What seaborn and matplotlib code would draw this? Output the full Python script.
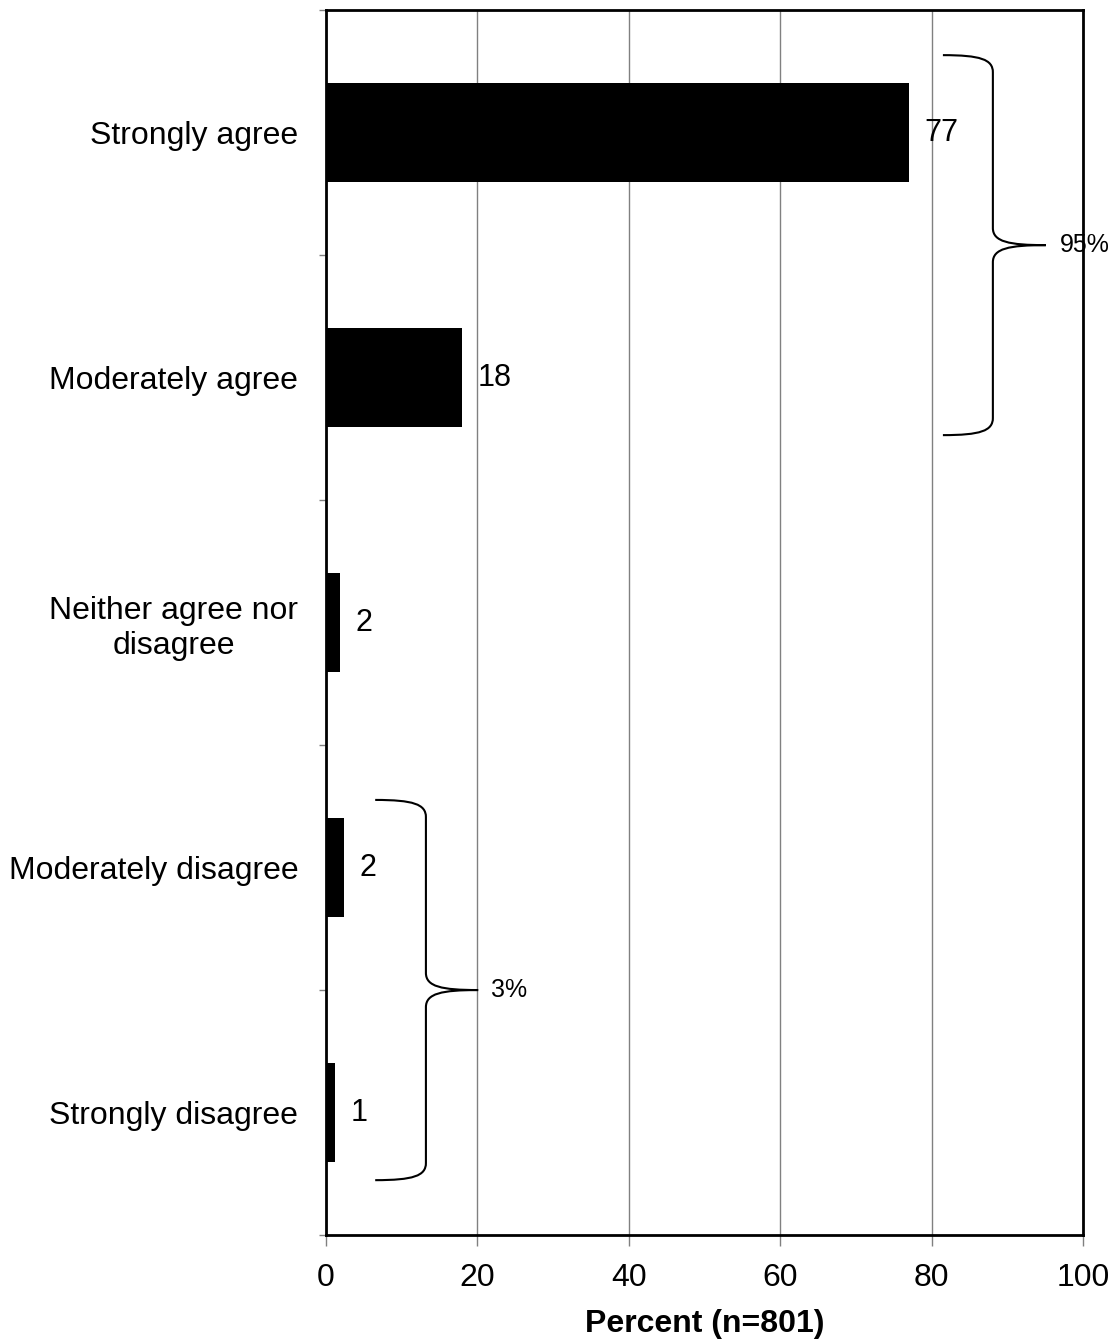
import numpy as np
import pandas as pd
import matplotlib
matplotlib.use('Agg')
import matplotlib.pyplot as plt
from matplotlib.path import Path
from matplotlib.patches import PathPatch
import seaborn as sns

# --- data --- #
categories = ['Strongly agree', 'Moderately agree', 'Neither agree nor\ndisagree',
              'Moderately disagree', 'Strongly disagree']
percent = [77.0, 18.0, 1.85, 2.4, 1.2]
value_labels = ['77', '18', '2', '2', '1']
brace_groups = [(0, 1, '95%'), (3, 4, '3%')]
x_ticks = [0, 20, 40, 60, 80, 100]


def draw_brace(ax, x0, x1, x2, y0, y1, r, lw=1.5):
    ym = (y0 + y1) / 2
    verts = [
        (x0, y0), (x0 + (x1 - x0) * 0.75, y0), (x1, y0 + r * 0.25), (x1, y0 + r),
        (x1, ym - r),
        (x1, ym - r * 0.2), (x1 + (x2 - x1) * 0.3, ym), (x2, ym),
        (x1 + (x2 - x1) * 0.3, ym), (x1, ym + r * 0.2), (x1, ym + r),
        (x1, y1 - r),
        (x1, y1 - r * 0.25), (x0 + (x1 - x0) * 0.75, y1), (x0, y1),
    ]
    codes = [Path.MOVETO, Path.CURVE4, Path.CURVE4, Path.CURVE4,
             Path.LINETO,
             Path.CURVE4, Path.CURVE4, Path.CURVE4,
             Path.CURVE4, Path.CURVE4, Path.CURVE4,
             Path.LINETO,
             Path.CURVE4, Path.CURVE4, Path.CURVE4]
    ax.add_patch(PathPatch(Path(verts, codes), fill=False, edgecolor='black', lw=lw))
    return ym


sns.set_style('white')
plt.rcParams['font.family'] = ['Liberation Sans', 'DejaVu Sans']
plt.rcParams['text.color'] = 'black'
plt.rcParams['axes.labelcolor'] = 'black'
plt.rcParams['xtick.labelcolor'] = 'black'
plt.rcParams['ytick.labelcolor'] = 'black'

df = pd.DataFrame({'category': categories, 'percent': percent})

fig = plt.figure(figsize=(11.13, 13.42), dpi=100)
ax = fig.add_axes([0.2929, 0.0797, 0.6801, 0.9128])

sns.barplot(data=df, y='category', x='percent', orient='h', color='black',
            width=0.404, saturation=1, linewidth=0, ax=ax, zorder=3)

ax.set_xlim(0, 100)
ax.set_ylim(len(categories) - 0.5, -0.5)
ax.set_xticks(x_ticks)
ax.set_xticklabels([str(t) for t in x_ticks], fontsize=23)
ax.xaxis.grid(True, color='#808080', lw=1, zorder=0)
ax.yaxis.grid(False)
ax.tick_params(axis='x', bottom=True, direction='out', length=8, width=1,
               color='#808080', pad=12)
ax.tick_params(axis='y', which='major', left=True, length=0, pad=20, labelsize=23)
ax.set_yticks(np.arange(-0.5, len(categories), 1), minor=True)
ax.tick_params(axis='y', which='minor', left=True, direction='out', length=5, width=1,
               color='#808080')
for lab in ax.get_yticklabels():
    lab.set_multialignment('center')

ax.set_ylabel('')
ax.set_xlabel('Percent (n=801)', fontsize=23, fontweight='bold', labelpad=12)

for side in ['left', 'right', 'top', 'bottom']:
    ax.spines[side].set_visible(True)
    ax.spines[side].set_color('black')
    ax.spines[side].set_linewidth(2)

ax.bar_label(ax.containers[0], labels=value_labels, padding=11, fontsize=22)

# braces grouping agree / disagree totals
ym = draw_brace(ax, 81.5, 88.1, 95.1, -0.316, 1.235, 0.07)
ax.text(97.0, ym, brace_groups[0][2], fontsize=18, va='center', ha='left')
ym = draw_brace(ax, 6.5, 13.2, 20.1, 2.724, 4.276, 0.07)
ax.text(21.8, ym, brace_groups[1][2], fontsize=18, va='center', ha='left')

fig.savefig('out.png', dpi=100)
